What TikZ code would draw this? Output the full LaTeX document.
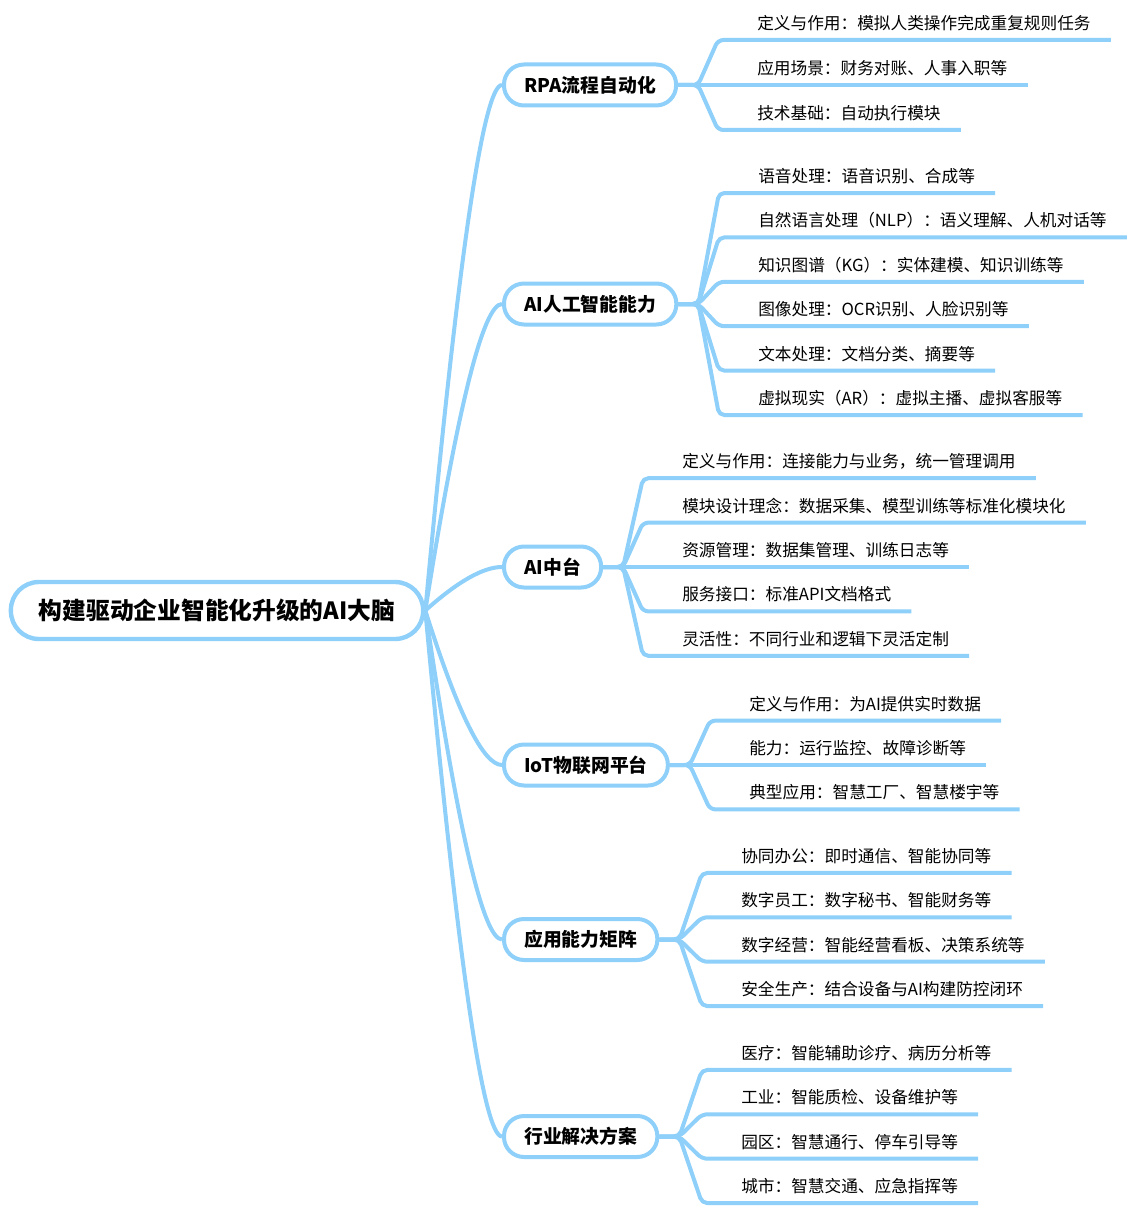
\documentclass[tikz,border=0pt]{standalone}
\usepackage{fontspec}
\setmainfont{Noto Sans CJK SC}
\usetikzlibrary{calc}
\definecolor{lineblue}{RGB}{142,208,250}
\newcommand\leafline[2]{\draw[conn] (#1.east) -- ++(20,0) -- ($(#2.base west)+(-39,10.5)$) -- ($(#2.base east)+(20,10.5)$);}
\newcommand\rootlink[1]{\draw[rootconn] (root.east) .. controls ($(root.east)!0.6667!($(#1.west)+(-28,0)$)$) and ($(#1.west)+(-18.7,0)$) .. (#1.west);}
\begin{document}
\begin{tikzpicture}[x=0.75pt,y=-0.75pt,
  rootbox/.style={draw=lineblue, line width=3.3pt, rounded corners=21pt, fill=white, minimum height=42.75pt, inner xsep=21pt, font=\fontsize{17.8}{20}\selectfont\bfseries},
  branchbox/.style={draw=lineblue, line width=3pt, rounded corners=15pt, fill=white, minimum height=30.75pt, inner xsep=15.2pt, anchor=west, font=\fontsize{14.1}{17}\selectfont\bfseries},
  leaf/.style={anchor=base west, inner sep=0pt, font=\fontsize{12.5}{15}\selectfont},
  conn/.style={draw=lineblue, line width=3pt, rounded corners=4pt},
  rootconn/.style={draw=lineblue, line width=3pt}]
\useasboundingbox[fill=white] (0,0) rectangle (1135,1209);

% root and branches
\node[rootbox] (root) at (217,610.5) {构建驱动企业智能化升级的AI大脑};
\node[branchbox] (rpa) at (502,85) {RPA流程自动化};
\node[branchbox] (ai) at (502,304) {AI人工智能能力};
\node[branchbox] (mid) at (502,567) {AI中台};
\node[branchbox] (iot) at (502,765) {IoT物联网平台};
\node[branchbox] (app) at (502,939.5) {应用能力矩阵};
\node[branchbox] (ind) at (502,1136.5) {行业解决方案};

% leaves: RPA
\node[leaf] (r1) at (757,29.5) {定义与作用：模拟人类操作完成重复规则任务};
\node[leaf] (r2) at (757,74.5) {应用场景：财务对账、人事入职等};
\node[leaf] (r3) at (757,119.5) {技术基础：自动执行模块};
% leaves: AI
\node[leaf] (a1) at (758,182.5) {语音处理：语音识别、合成等};
\node[leaf] (a2) at (758,226.9) {自然语言处理（NLP）：语义理解、人机对话等};
\node[leaf] (a3) at (758,271.3) {知识图谱（KG）：实体建模、知识训练等};
\node[leaf] (a4) at (758,315.7) {图像处理：OCR识别、人脸识别等};
\node[leaf] (a5) at (758,360.1) {文本处理：文档分类、摘要等};
\node[leaf] (a6) at (758,404.5) {虚拟现实（AR）：虚拟主播、虚拟客服等};
% leaves: AI middle platform
\node[leaf] (m1) at (682,467.7) {定义与作用：连接能力与业务，统一管理调用};
\node[leaf] (m2) at (682,512.1) {模块设计理念：数据采集、模型训练等标准化模块化};
\node[leaf] (m3) at (682,556.5) {资源管理：数据集管理、训练日志等};
\node[leaf] (m4) at (682,600.9) {服务接口：标准API文档格式};
\node[leaf] (m5) at (682,645.3) {灵活性：不同行业和逻辑下灵活定制};
% leaves: IoT
\node[leaf] (i1) at (749,710.1) {定义与作用：为AI提供实时数据};
\node[leaf] (i2) at (749,754.5) {能力：运行监控、故障诊断等};
\node[leaf] (i3) at (749,798.9) {典型应用：智慧工厂、智慧楼宇等};
% leaves: application matrix
\node[leaf] (p1) at (741,862.4) {协同办公：即时通信、智能协同等};
\node[leaf] (p2) at (741,906.8) {数字员工：数字秘书、智能财务等};
\node[leaf] (p3) at (741,951.2) {数字经营：智能经营看板、决策系统等};
\node[leaf] (p4) at (741,995.6) {安全生产：结合设备与AI构建防控闭环};
% leaves: industry
\node[leaf] (n1) at (741,1059.4) {医疗：智能辅助诊疗、病历分析等};
\node[leaf] (n2) at (741,1103.8) {工业：智能质检、设备维护等};
\node[leaf] (n3) at (741,1148.2) {园区：智慧通行、停车引导等};
\node[leaf] (n4) at (741,1192.6) {城市：智慧交通、应急指挥等};

% root connectors
\rootlink{rpa}
\rootlink{ai}
\rootlink{mid}
\rootlink{iot}
\rootlink{app}
\rootlink{ind}

% leaf connectors
\leafline{rpa}{r1}\leafline{rpa}{r2}\leafline{rpa}{r3}
\leafline{ai}{a1}\leafline{ai}{a2}\leafline{ai}{a3}\leafline{ai}{a4}\leafline{ai}{a5}\leafline{ai}{a6}
\leafline{mid}{m1}\leafline{mid}{m2}\leafline{mid}{m3}\leafline{mid}{m4}\leafline{mid}{m5}
\leafline{iot}{i1}\leafline{iot}{i2}\leafline{iot}{i3}
\leafline{app}{p1}\leafline{app}{p2}\leafline{app}{p3}\leafline{app}{p4}
\leafline{ind}{n1}\leafline{ind}{n2}\leafline{ind}{n3}\leafline{ind}{n4}
\end{tikzpicture}
\end{document}
